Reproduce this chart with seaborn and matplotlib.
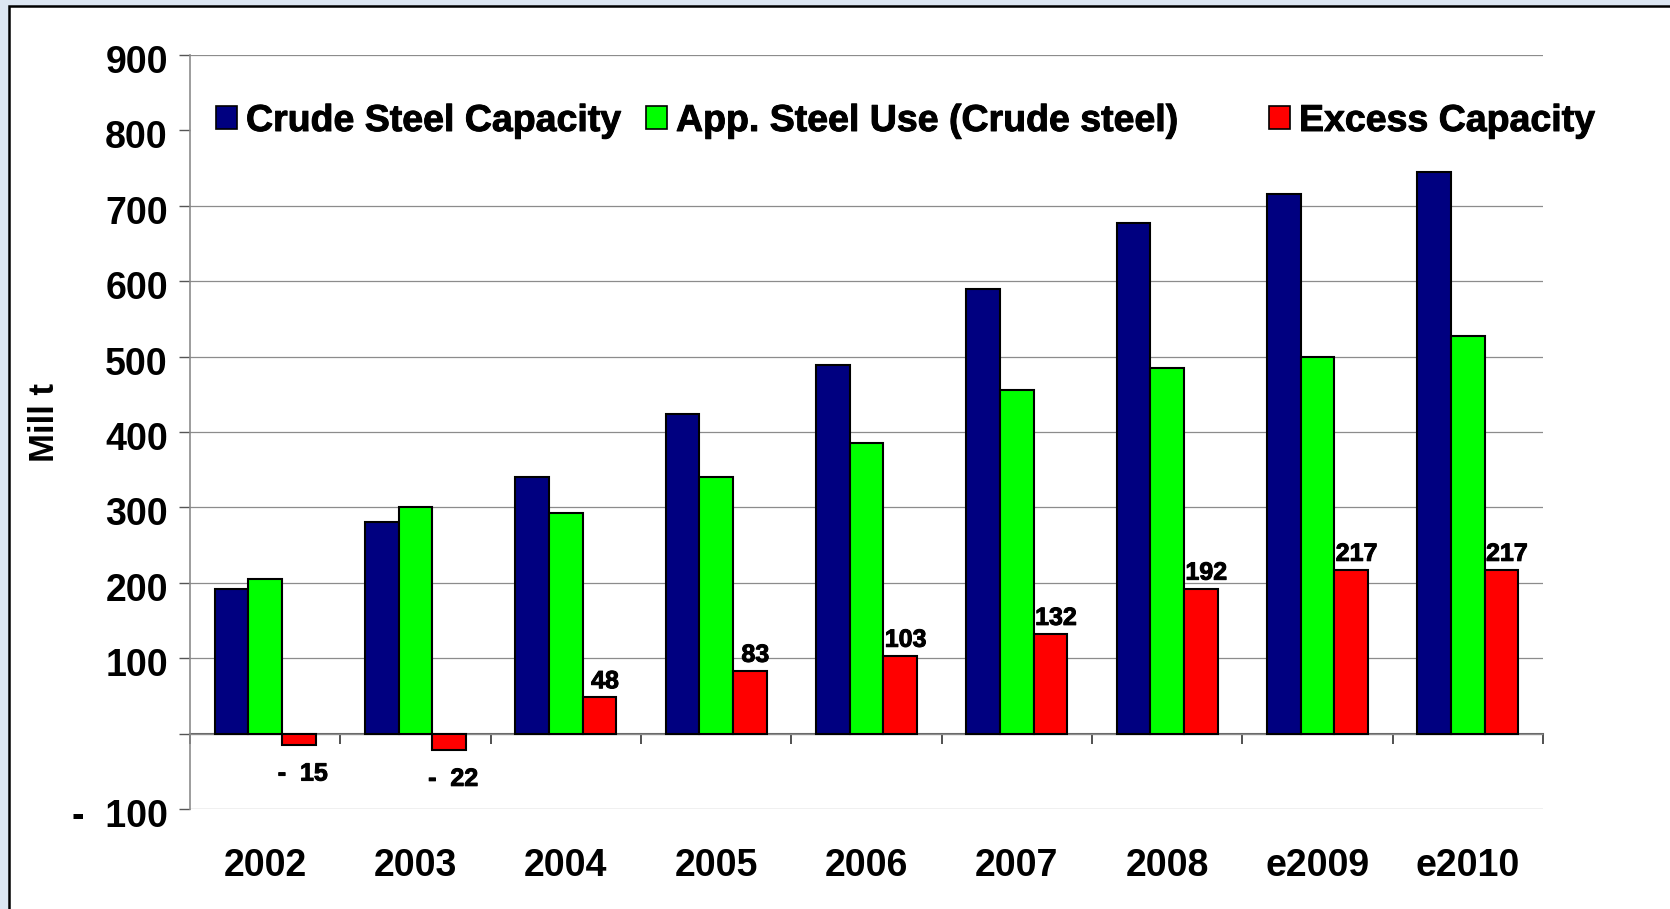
import pandas as pd
import numpy as np
import seaborn as sns
import matplotlib.pyplot as plt
import matplotlib.transforms as mtransforms
import matplotlib.patheffects as pe
from matplotlib.patches import Patch, Rectangle

# Data (Mill t)
years = ['2002', '2003', '2004', '2005', '2006', '2007', '2008', 'e2009', 'e2010']
capacity = [192, 280, 340, 424, 489, 589, 677, 716, 745]
steel_use = [205, 300, 292, 340, 386, 456, 485, 499, 527]
excess = [-15, -22, 48, 83, 103, 132, 192, 217, 217]

series = ['Crude Steel Capacity', 'App. Steel Use (Crude steel)', 'Excess Capacity']
colors = ['#000080', '#00FF00', '#FF0000']

y_ticks = [-100, 0, 100, 200, 300, 400, 500, 600, 700, 800, 900]
y_tick_labels = ['-  100', '', '100', '200', '300', '400', '500', '600', '700', '800', '900']

# Long form table for seaborn
df = pd.DataFrame({
    'Year': years * 3,
    'Value': capacity + steel_use + excess,
    'Series': [s for s in series for _ in years],
})

sns.set_style('white')
plt.rcParams['font.family'] = ['Liberation Sans', 'DejaVu Sans']
plt.rcParams['font.weight'] = 'bold'
plt.rcParams['text.color'] = 'black'
plt.rcParams['axes.labelcolor'] = 'black'
plt.rcParams['xtick.color'] = 'black'
plt.rcParams['ytick.color'] = 'black'

heavy = [pe.withStroke(linewidth=0.7, foreground='black')]

W, H = 1670, 909
fig = plt.figure(figsize=(W / 100, H / 100), dpi=100)
fig.patch.set_facecolor('#dce6f2')

# white panel with black border (top/left visible)
fig.add_artist(Rectangle((9 / W, -0.05), 1.1, 1.05 - 6 / H, transform=fig.transFigure,
                         facecolor='white', edgecolor='black', linewidth=1.8, zorder=-10))

ax = fig.add_axes([190 / W, 100 / H, 1353 / W, 754 / H])
ax.set_facecolor('none')

sns.barplot(data=df, x='Year', y='Value', hue='Series', hue_order=series,
            palette=dict(zip(series, colors)), saturation=1, width=0.67,
            edgecolor='black', linewidth=1.5, legend=False, ax=ax, zorder=3)

ax.set_xlim(-0.5, len(years) - 0.5)
ax.set_ylim(-100, 900)
ax.set_yticks(y_ticks)
ax.set_yticklabels(y_tick_labels)
ax.grid(axis='y', color='#8c8c8c', linewidth=0.9, zorder=0)
ax.get_ygridlines()[y_ticks.index(800)].set_visible(False)

for side in ['top', 'right', 'bottom']:
    ax.spines[side].set_visible(False)
ax.spines['left'].set_color('#8c8c8c')
ax.spines['left'].set_linewidth(1.2)

ax.tick_params(axis='y', left=True, length=8, width=1, color='#555555',
               labelcolor='black', labelsize=27, pad=8)
ax.tick_params(axis='x', length=0, labelcolor='black', labelsize=27, pad=28)
shift = mtransforms.ScaledTranslation(0, -4 / 100, fig.dpi_scale_trans)
for lbl in ax.get_yticklabels():
    lbl.set_fontweight('bold')
    lbl.set_transform(lbl.get_transform() + shift)
for lbl in ax.get_xticklabels():
    lbl.set_fontweight('bold')

ax.set_xlabel('')
ax.set_ylabel('Mill t', fontsize=25, fontweight='bold', color='black')
ax.yaxis.set_label_coords(-0.095, 0.513)

# zero line with category boundary ticks
zero = ax.secondary_xaxis(0.1)
zero.set_xticks(np.arange(len(years) + 1) - 0.5)
zero.tick_params(axis='x', direction='out', length=7, width=1.2, color='#333333',
                 labelbottom=False)
zero.spines['bottom'].set_color('#666666')
zero.spines['bottom'].set_linewidth(1.5)

# value labels on excess capacity bars
for patch, val in zip(ax.containers[2], excess):
    x = patch.get_x() + patch.get_width() / 2
    if val >= 0:
        ax.annotate(f'{val}', (x, val), xytext=(4, 3), textcoords='offset points',
                    ha='center', va='bottom', fontsize=18, fontweight='bold',
                    color='black', path_effects=heavy)
    else:
        ax.annotate(f'-  {abs(val)}', (x, val), xytext=(3, -12), textcoords='offset points',
                    ha='center', va='top', fontsize=18, fontweight='bold',
                    color='black', path_effects=heavy)

# legend entries placed individually
legend_x = [216, 646, 1269]
for name, col, lx in zip(series, colors, legend_x):
    leg = fig.legend(handles=[Patch(facecolor=col, edgecolor='black', linewidth=1.2)],
                     labels=[name], loc='center left',
                     bbox_to_anchor=(lx / W, 1 - 121 / H), frameon=False,
                     borderpad=0, borderaxespad=0, handlelength=0.55, handleheight=0.55,
                     handletextpad=0.25, labelcolor='black',
                     prop={'size': 27, 'weight': 'bold'})
    for t in leg.get_texts():
        t.set_path_effects(heavy)

fig.savefig('out.png', dpi=100, facecolor=fig.get_facecolor())
